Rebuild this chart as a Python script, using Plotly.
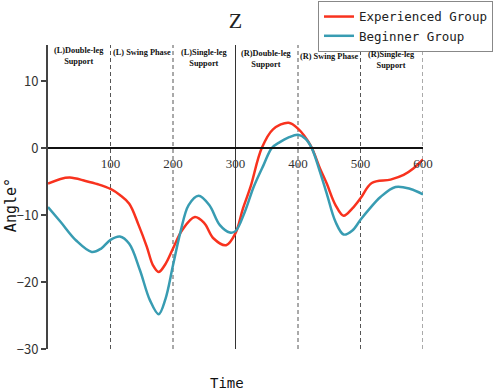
import plotly.graph_objects as go

# ---- data ----
exp_x = [0, 20, 35, 60, 80, 100, 115, 130, 145, 158, 168, 177, 188, 200, 215, 235, 250, 265, 285,
         300, 312, 324, 342, 360, 385, 400, 420, 435, 446, 460, 473, 487, 500, 518, 548, 569, 585, 600]
exp_y = [-5.3, -4.6, -4.4, -4.9, -5.4, -6.1, -7.0, -8.3, -11.5, -14.7, -17.5, -18.5, -17.3, -15.0,
         -12.2, -10.3, -11.2, -13.5, -14.5, -12.7, -9.0, -5.8, 0.0, 2.8, 3.8, 2.9, 0.4, -3.0, -5.3,
         -8.5, -10.1, -9.0, -7.5, -5.2, -4.7, -4.0, -3.0, -1.7]

beg_x = [0, 20, 45, 70, 85, 100, 115, 130, 147, 163, 177, 188, 200, 212, 225, 241, 258, 275, 291,
         300, 315, 329, 345, 358, 371, 385, 400, 412, 422, 435, 446, 460, 473, 487, 500, 515, 532,
         556, 580, 600]
beg_y = [-8.8, -11.0, -13.8, -15.5, -15.0, -13.7, -13.2, -14.3, -18.2, -22.7, -24.8, -22.5, -17.5,
         -12.5, -8.5, -7.1, -8.5, -11.5, -12.6, -12.4, -9.5, -5.8, -2.5, 0.0, 0.9, 1.6, 2.0, 1.4,
         0.0, -3.5, -6.8, -11.0, -12.9, -12.3, -10.7, -9.0, -7.3, -5.8, -6.1, -6.9]

series_names = ["Experienced Group", "Beginner Group"]
phase_bounds = [0, 100, 200, 300, 400, 500, 600]
phase_labels = ["(L)Double-leg<br>Support", "(L) Swing Phase", "(L)Single-leg<br>Support",
                "(R)Double-leg<br>Support", "(R) Swing Phase", "(R)Single-leg<br>Support"]
x_ticks = [100, 200, 300, 400, 500, 600]
y_ticks = [-30, -20, -10, 0, 10]

RED = "#F8321E"
BLUE = "#389CB2"
Y_RANGE = [-30, 15.4]

fig = go.Figure()
fig.add_trace(go.Scatter(x=exp_x, y=exp_y, mode="lines", name=series_names[0],
                         line=dict(color=RED, width=2.5, shape="spline", smoothing=1.0)))
fig.add_trace(go.Scatter(x=beg_x, y=beg_y, mode="lines", name=series_names[1],
                         line=dict(color=BLUE, width=2.5, shape="spline", smoothing=1.0)))

# phase boundary lines
for b in phase_bounds[1:]:
    fig.add_shape(type="line", x0=b, x1=b, xref="x", y0=0, y1=1, yref="paper",
                  line=dict(color="#333" if b == 300 else "#555", width=1,
                            dash="solid" if b == 300 else "4px,3px"),
                  layer="below")

# phase labels
label_y = [0.964, 0.975, 0.958, 0.955, 0.962, 0.952]
for i, txt in enumerate(phase_labels):
    cx = (phase_bounds[i] + phase_bounds[i + 1]) / 2
    fig.add_annotation(x=cx, xref="x", y=label_y[i], yref="paper", text="<b>" + txt + "</b>",
                       showarrow=False, xanchor="center", yanchor="middle",
                       font=dict(family="Liberation Serif", size=8.3, color="#111"))

zero_pos = (0 - Y_RANGE[0]) / (Y_RANGE[1] - Y_RANGE[0])

fig.update_layout(
    width=498, height=390,
    margin=dict(l=48, r=75, t=45, b=41, autoexpand=False),
    paper_bgcolor="white", plot_bgcolor="white",
    title=dict(text="Z", x=0.473, xanchor="center", y=0.947, yanchor="middle",
               font=dict(family="Liberation Serif", size=22, color="#222")),
    xaxis=dict(range=[0, 600], anchor="free", position=zero_pos, showline=True,
               linecolor="#111", linewidth=1.5, tickvals=x_ticks, ticks="",
               ticklabelstandoff=4,
               showgrid=False, zeroline=False,
               tickfont=dict(family="Liberation Serif", size=13, color="#333")),
    yaxis=dict(range=Y_RANGE, tickvals=y_ticks, showline=True, linecolor="#444", linewidth=2,
               ticks="outside", ticklen=5, tickwidth=2, tickcolor="#444",
               showgrid=False, zeroline=False,
               tickfont=dict(family="Noto Sans CJK JP", size=13, color="#333")),
    legend=dict(x=0.72, xanchor="left", y=1.145, yanchor="top",
                bgcolor="white", bordercolor="#888", borderwidth=1,
                font=dict(family="DejaVu Sans Mono", size=12.5, color="#222"),
                tracegroupgap=0),
    showlegend=True,
)

fig.add_annotation(text="Time", x=0.477, xref="paper", y=-0.112, yref="paper", showarrow=False,
                   xanchor="center", yanchor="middle",
                   font=dict(family="DejaVu Sans Mono", size=14, color="#111"))
fig.add_annotation(text="Angle°", x=-0.098, xref="paper", y=0.474, yref="paper", showarrow=False,
                   textangle=-90, xanchor="center", yanchor="middle",
                   font=dict(family="DejaVu Sans Mono", size=15, color="#111"))

fig.write_html("out.html", config={"displayModeBar": False},
               post_script="document.body.style.margin='0';")
